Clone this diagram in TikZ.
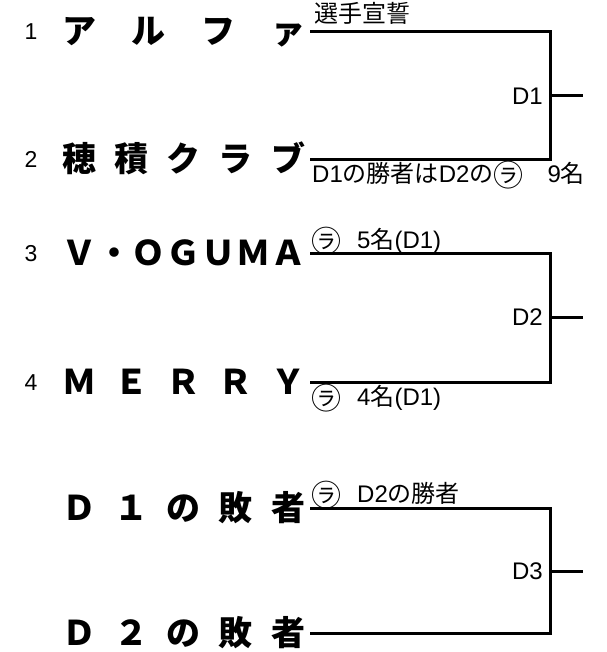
\documentclass[tikz,border=0pt]{standalone}
\usepackage{fontspec}
\setmainfont{Noto Sans CJK JP}
\newfontfamily\lat{Liberation Sans}
\newcommand{\la}[1]{{\lat #1}}
\newcommand{\rra}{\raisebox{-4bp}{\fontsize{30bp}{30bp}\selectfont ㋶}}
\begin{document}
\begin{tikzpicture}[x=1bp,y=-1bp,
  team/.style={anchor=base west,inner sep=0pt,font=\fontsize{34bp}{36bp}\selectfont\bfseries},
  num/.style={anchor=base,inner sep=0pt,font=\fontsize{23bp}{25bp}\selectfont\lat},
  lbl/.style={anchor=base west,inner sep=0pt,font=\fontsize{24bp}{26bp}\selectfont},
  dlbl/.style={anchor=east,inner sep=0pt,font=\fontsize{24bp}{26bp}\selectfont\lat},
  bracket/.style={line width=3bp,line join=miter}]
\useasboundingbox (0,0) rectangle (607,652);
% numbers
\node[num] (k1) at (31,40) {1};
\node[num] (k2) at (31,167) {2};
\node[num] (k3) at (31,261) {3};
\node[num] (k4) at (31,390) {4};
% team names
\node[team] (n1) at (62,44) {\makebox[243bp]{ア\hfill ル\hfill フ\hfill ァ}};
\node[team] (n2) at (62,171) {\makebox[243bp]{穂\hfill 積\hfill ク\hfill ラ\hfill ブ}};
\node[team] (n3) at (62,265) {\makebox[243bp]{Ｖ\hfill ・\hfill Ｏ\hfill Ｇ\hfill Ｕ\hfill Ｍ\hfill Ａ}};
\node[team] (n4) at (62,394) {\makebox[243bp]{Ｍ\hfill Ｅ\hfill Ｒ\hfill Ｒ\hfill Ｙ}};
\node[team] (n5) at (62,520) {\makebox[243bp]{Ｄ\hfill １\hfill の\hfill 敗\hfill 者}};
\node[team] (n6) at (62,645) {\makebox[243bp]{Ｄ\hfill ２\hfill の\hfill 敗\hfill 者}};
% bracket coordinates
\coordinate (s1) at (310,32);  \coordinate (s2) at (310,159);
\coordinate (s3) at (310,253); \coordinate (s4) at (310,382);
\coordinate (s5) at (310,508); \coordinate (s6) at (310,633);
\coordinate (m1) at (550,96);  \coordinate (w1) at (583,96);
\coordinate (m2) at (550,317); \coordinate (w2) at (583,317);
\coordinate (m3) at (550,571); \coordinate (w3) at (583,571);
\draw[bracket] (s1) -| (m1) |- (s2);
\draw[bracket] (m1) -- (w1);
\draw[bracket] (s3) -| (m2) |- (s4);
\draw[bracket] (m2) -- (w2);
\draw[bracket] (s5) -| (m3) |- (s6);
\draw[bracket] (m3) -- (w3);
% match labels
\node[dlbl] (d1) at (543,96) {D1};
\node[dlbl] (d2) at (543,317) {D2};
\node[dlbl] (d3) at (543,571) {D3};
% notes
\node[lbl] (t1) at (314,23) {選手宣誓};
\node[lbl] (t2) at (312,182) {\la{D1}の勝者は\la{D2}の\rra\hspace{24bp}\la{9}名};
\node[lbl] (t3) at (311,248) {\rra\hspace{16bp}\la{5}名\la{(D1)}};
\node[lbl] (t4) at (311,405) {\rra\hspace{16bp}\la{4}名\la{(D1)}};
\node[lbl] (t5) at (311,502) {\rra\hspace{16bp}\la{D2}の勝者};
\end{tikzpicture}
\end{document}
